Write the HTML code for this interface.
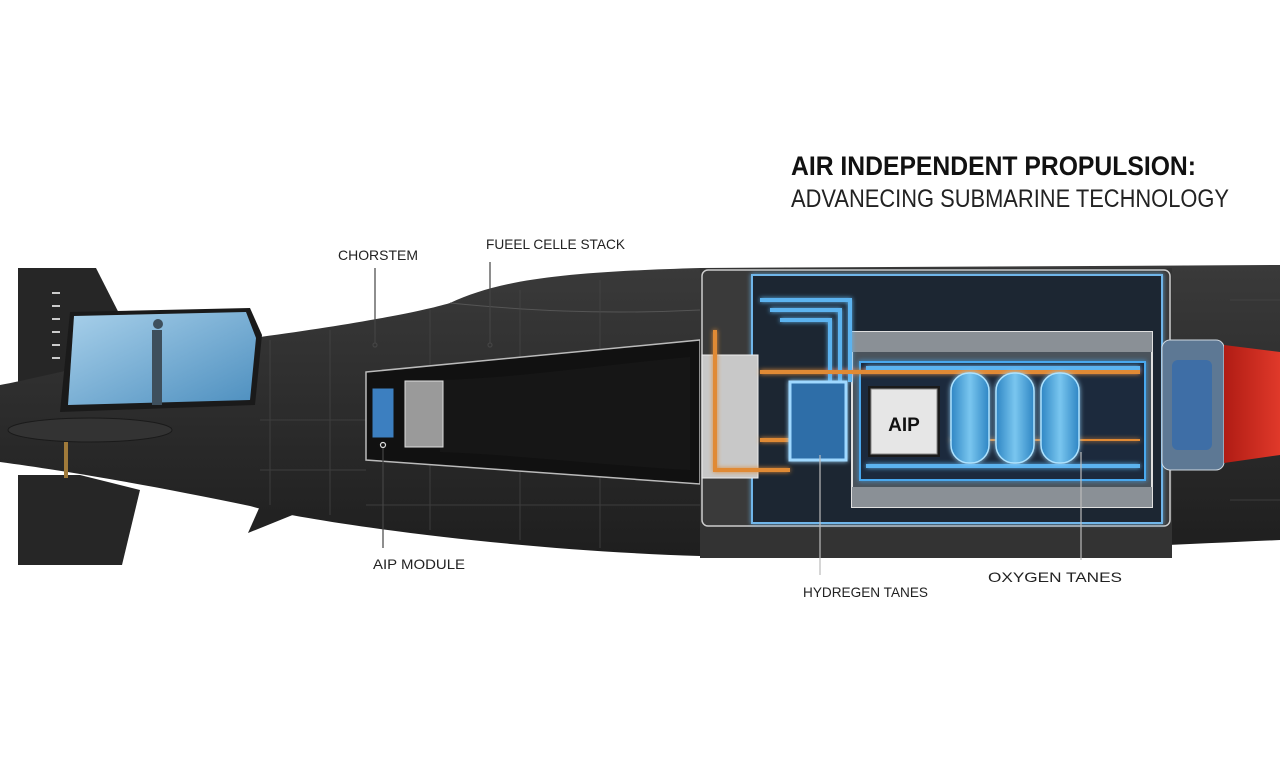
<!DOCTYPE html>
<html><head><meta charset="utf-8"><style>html,body{margin:0;padding:0;background:#fff;}svg{display:block}</style></head>
<body>
<svg width="1280" height="769" viewBox="0 0 1280 769" xmlns="http://www.w3.org/2000/svg" font-family="Liberation Sans, sans-serif">
<defs>
<linearGradient id="hull" x1="0" y1="0" x2="0" y2="1"><stop offset="0" stop-color="#3a3a3a"/><stop offset="0.5" stop-color="#2c2c2c"/><stop offset="1" stop-color="#1e1e1e"/></linearGradient>
<linearGradient id="win" x1="0" y1="0" x2="1" y2="1"><stop offset="0" stop-color="#a8d0ea"/><stop offset="1" stop-color="#4d8fbf"/></linearGradient>
<linearGradient id="tank" x1="0" y1="0" x2="1" y2="0"><stop offset="0" stop-color="#2f86c4"/><stop offset="0.5" stop-color="#79c6ef"/><stop offset="1" stop-color="#2f86c4"/></linearGradient>
<linearGradient id="red" x1="0" y1="0" x2="1" y2="0"><stop offset="0" stop-color="#b01c14"/><stop offset="1" stop-color="#e0392a"/></linearGradient>
<filter id="glow"><feGaussianBlur stdDeviation="2.5" result="b"/><feMerge><feMergeNode in="b"/><feMergeNode in="SourceGraphic"/></feMerge></filter>
</defs>
<rect width="1280" height="769" fill="#fff"/>
<polygon points="18,268 96,268 130,335 80,382 18,382" fill="#262626"/>
<polygon points="18,475 80,475 140,490 122,565 18,565" fill="#262626"/>
<polygon points="248,533 300,512 268,488" fill="#222"/>
<path d="M0,385 C40,378 120,355 260,337 C350,325 420,312 450,303 C500,280 560,272 700,268 L1280,265 L1280,540 C1100,548 850,560 700,556 C500,550 300,520 250,506 C150,485 60,470 0,462 Z" fill="url(#hull)"/>
<path d="M450,303 C520,310 600,315 700,310" stroke="#555" fill="none"/>
<g stroke="#474747" stroke-width="1" opacity="0.7">
<line x1="270" y1="340" x2="270" y2="505"/><line x1="330" y1="330" x2="330" y2="515"/><line x1="430" y1="310" x2="430" y2="530"/><line x1="520" y1="290" x2="520" y2="540"/><line x1="600" y1="280" x2="600" y2="548"/>
<line x1="260" y1="420" x2="366" y2="420"/><line x1="260" y1="470" x2="366" y2="470"/><line x1="366" y1="505" x2="700" y2="505"/><line x1="1230" y1="300" x2="1280" y2="300"/><line x1="1230" y1="500" x2="1280" y2="500"/>
</g>
<polygon points="70,312 250,308 262,335 255,405 60,412" fill="#1a1a1a"/>
<polygon points="74,316 246,312 256,338 250,400 68,405" fill="url(#win)"/>
<rect x="152" y="330" width="10" height="75" fill="#3e4f5c"/>
<circle cx="158" cy="324" r="5" fill="#3e4f5c"/>
<ellipse cx="90" cy="430" rx="82" ry="12" fill="#333" stroke="#1a1a1a"/>
<rect x="64" y="442" width="4" height="36" fill="#a07a3a"/>
<g fill="#ccc"><rect x="52" y="292" width="8" height="2"/><rect x="52" y="305" width="8" height="2"/><rect x="52" y="318" width="8" height="2"/><rect x="52" y="331" width="8" height="2"/><rect x="52" y="344" width="8" height="2"/><rect x="52" y="357" width="8" height="2"/></g>
<polygon points="366,372 700,340 700,484 366,460" fill="#111" stroke="#bbb" stroke-width="1.5"/>
<path d="M440,380 C520,378 600,365 690,357 L690,470 C600,465 520,455 440,452 Z" fill="#161616"/>
<rect x="405" y="381" width="38" height="66" fill="#9a9a9a" stroke="#ddd"/>
<rect x="372" y="388" width="22" height="50" fill="#3c7fc0" stroke="#111"/>
<rect x="700" y="268" width="472" height="290" fill="#333"/>
<rect x="702" y="270" width="468" height="256" fill="#3a3a3a" stroke="#ccc" stroke-width="1.5" rx="6"/>
<rect x="752" y="275" width="410" height="248" fill="#1c2733" stroke="#6fb6ea" stroke-width="2" filter="url(#glow)"/>
<rect x="702" y="355" width="56" height="123" fill="#c8c8c8" stroke="#eee"/>
<rect x="852" y="332" width="300" height="175" fill="#4a535c" stroke="#e0e0e0" stroke-width="2"/>
<rect x="852" y="332" width="300" height="20" fill="#8a9096"/>
<rect x="852" y="487" width="300" height="20" fill="#8a9096"/>
<rect x="860" y="362" width="285" height="118" fill="#1c2c3c" stroke="#4aa8ee" stroke-width="2" filter="url(#glow)"/>
<g fill="none" stroke-width="4" filter="url(#glow)">
<path d="M760,300 H850 V382" stroke="#5cb3ef"/><path d="M770,310 H840 V382" stroke="#5cb3ef"/><path d="M780,320 H830 V382" stroke="#5cb3ef"/>
<path d="M715,330 V470 H790" stroke="#e08a36"/><path d="M760,372 H1140" stroke="#e08a36"/><path d="M760,440 H790" stroke="#e08a36"/><path d="M950,440 H1140" stroke="#e08a36" stroke-width="2"/>
<path d="M866,466 H1140" stroke="#5cb3ef"/><path d="M866,368 H1140" stroke="#5cb3ef"/>
</g>
<rect x="790" y="382" width="56" height="78" fill="#2e6ea8" stroke="#9fd8ff" stroke-width="3" filter="url(#glow)"/>
<rect x="868" y="386" width="72" height="71" fill="#1a1a1a"/>
<rect x="871" y="389" width="66" height="65" fill="#e6e6e6" stroke="#888"/>
<text x="904" y="431" text-anchor="middle" font-size="19" font-weight="bold" fill="#111">AIP</text>
<g filter="url(#glow)" stroke="#aee3ff" stroke-width="1.5">
<rect x="951" y="373" width="38" height="90" rx="18" fill="url(#tank)"/>
<rect x="996" y="373" width="38" height="90" rx="18" fill="url(#tank)"/>
<rect x="1041" y="373" width="38" height="90" rx="18" fill="url(#tank)"/>
</g>
<rect x="1162" y="340" width="62" height="130" rx="8" fill="#5d7894" stroke="#cfd8e0"/>
<rect x="1172" y="360" width="40" height="90" rx="6" fill="#3e6ea6"/>
<path d="M1224,345 L1280,352 L1280,455 L1224,463 Z" fill="url(#red)"/>
<g stroke="#444" stroke-width="1.2" fill="none">
<line x1="375" y1="268" x2="375" y2="343"/><circle cx="375" cy="345" r="2"/>
<line x1="490" y1="262" x2="490" y2="343"/><circle cx="490" cy="345" r="2"/>
<line x1="383" y1="448" x2="383" y2="548"/><circle cx="383" cy="445" r="2.5" stroke="#ddd"/>
<line x1="820" y1="455" x2="820" y2="575" stroke="#bbb"/>
<line x1="1081" y1="452" x2="1081" y2="560" stroke="#bbb"/>
</g>
<g fill="#222" font-size="14">
<text x="338" y="260" textLength="80" lengthAdjust="spacingAndGlyphs">CHORSTEM</text>
<text x="486" y="249" textLength="139" lengthAdjust="spacingAndGlyphs">FUEEL CELLE STACK</text>
<text x="373" y="569" textLength="92" lengthAdjust="spacingAndGlyphs">AIP MODULE</text>
<text x="803" y="597" textLength="125" lengthAdjust="spacingAndGlyphs">HYDREGEN TANES</text>
<text x="988" y="582" textLength="134" lengthAdjust="spacingAndGlyphs">OXYGEN TANES</text>
</g>
<text x="791" y="175" font-size="27" font-weight="bold" fill="#111" textLength="405" lengthAdjust="spacingAndGlyphs">AIR INDEPENDENT PROPULSION:</text>
<text x="791" y="207" font-size="25" fill="#222" textLength="438" lengthAdjust="spacingAndGlyphs">ADVANECING SUBMARINE TECHNOLOGY</text>
</svg>
</body></html>
